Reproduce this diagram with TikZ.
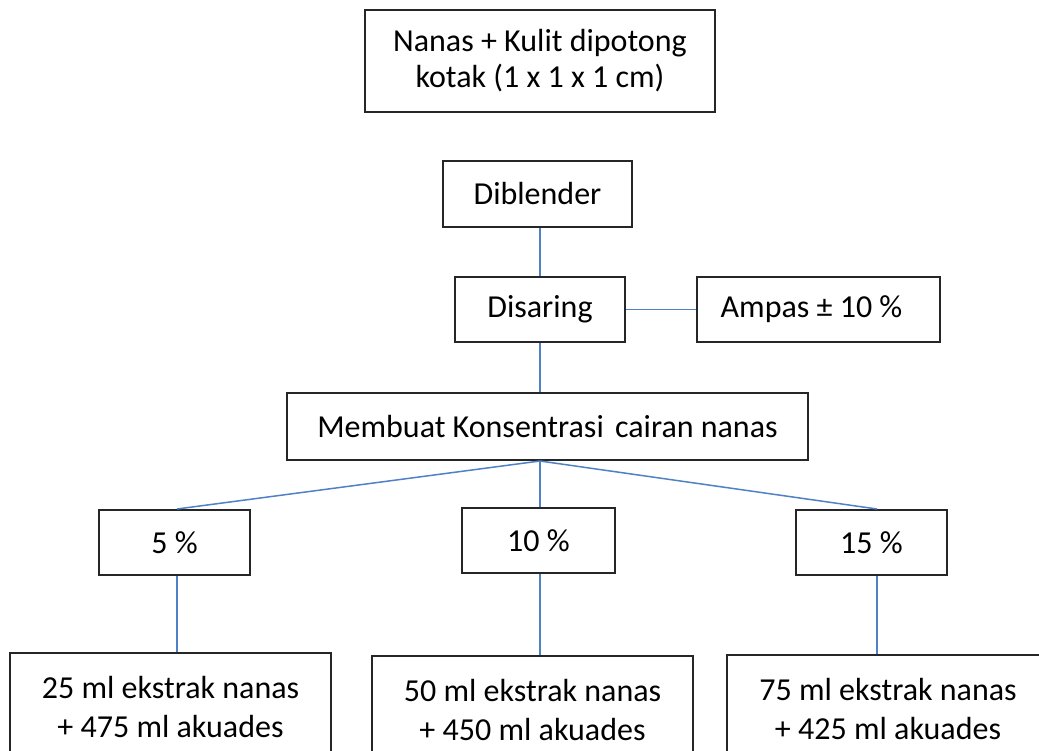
\documentclass[tikz,border=0pt]{standalone}
\usepackage{fontspec}
\setmainfont{Carlito}
\definecolor{linkblue}{RGB}{79,129,196}
\tikzset{
  box/.style={draw=black!85, line width=2pt, inner sep=0pt, align=center, font=\fontsize{32}{36}\selectfont},
  bigbox/.style={box, font=\fontsize{32}{39}\selectfont},
  link/.style={draw=linkblue, line width=1.5pt}
}
\begin{document}
\begin{tikzpicture}[x=1pt,y=-1pt]
\useasboundingbox (0,0) rectangle (1039,751);
\clip (0,0) rectangle (1039,751);
% process steps
\node[box, minimum width=350pt, minimum height=102pt] (bahan) at (540,61) {Nanas + Kulit dipotong\\kotak (1 x 1 x 1 cm)};
\node[box, minimum width=189pt, minimum height=66pt] (blender) at (537.5,194) {Diblender};
\node[box, minimum width=170pt, minimum height=65pt] (saring) at (540,309.5) {Disaring};
\node[box, minimum width=243pt, minimum height=65pt] (ampas) at (818.5,309.5) {Ampas ± 10 \%\hspace{14pt}};
\node[box, minimum width=521pt, minimum height=67pt] (konsentrasi) at (547.5,426.5) {Membuat Konsentrasi\hspace{4pt} cairan nanas};
% concentrations
\node[box, minimum width=151pt, minimum height=65pt] (p5) at (174.5,542.5) {5 \%};
\node[box, minimum width=153pt, minimum height=65pt] (p10) at (538.5,540.5) {10 \%};
\node[box, minimum width=151pt, minimum height=65pt] (p15) at (871.5,542.5) {15 \%};
% mixtures (cut at the bottom edge)
\node[bigbox, minimum width=321pt, minimum height=109pt] (c25) at (170.5,707.5) {25 ml ekstrak nanas\\+ 475 ml akuades};
\node[bigbox, minimum width=321pt, minimum height=109pt] (c50) at (532.5,710.5) {50 ml ekstrak nanas\\+ 450 ml akuades};
\node[bigbox, minimum width=322pt, minimum height=109pt] (c75) at (888,709.5) {75 ml ekstrak nanas\\+ 425 ml akuades};
\coordinate (cabang) at (540,461);
% connectors
\draw[link] (saring.north |- blender.south) -- (saring.north);
\draw[link] (saring.east) -- (ampas.west);
\draw[link] (saring.south) -- (saring.south |- konsentrasi.north);
\draw[link] (cabang) -- ([xshift=2.5pt]p5.north);
\draw[link] (cabang) -- (cabang |- p10.north);
\draw[link] (cabang) -- ([xshift=5.5pt]p15.north);
\draw[link] ([xshift=2.5pt]p5.south) -- ([xshift=2.5pt]p5.south |- c25.north);
\draw[link] (cabang |- p10.south) -- (cabang |- c50.north);
\draw[link] ([xshift=5.5pt]p15.south) -- ([xshift=5.5pt]p15.south |- c75.north);
\end{tikzpicture}
\end{document}
